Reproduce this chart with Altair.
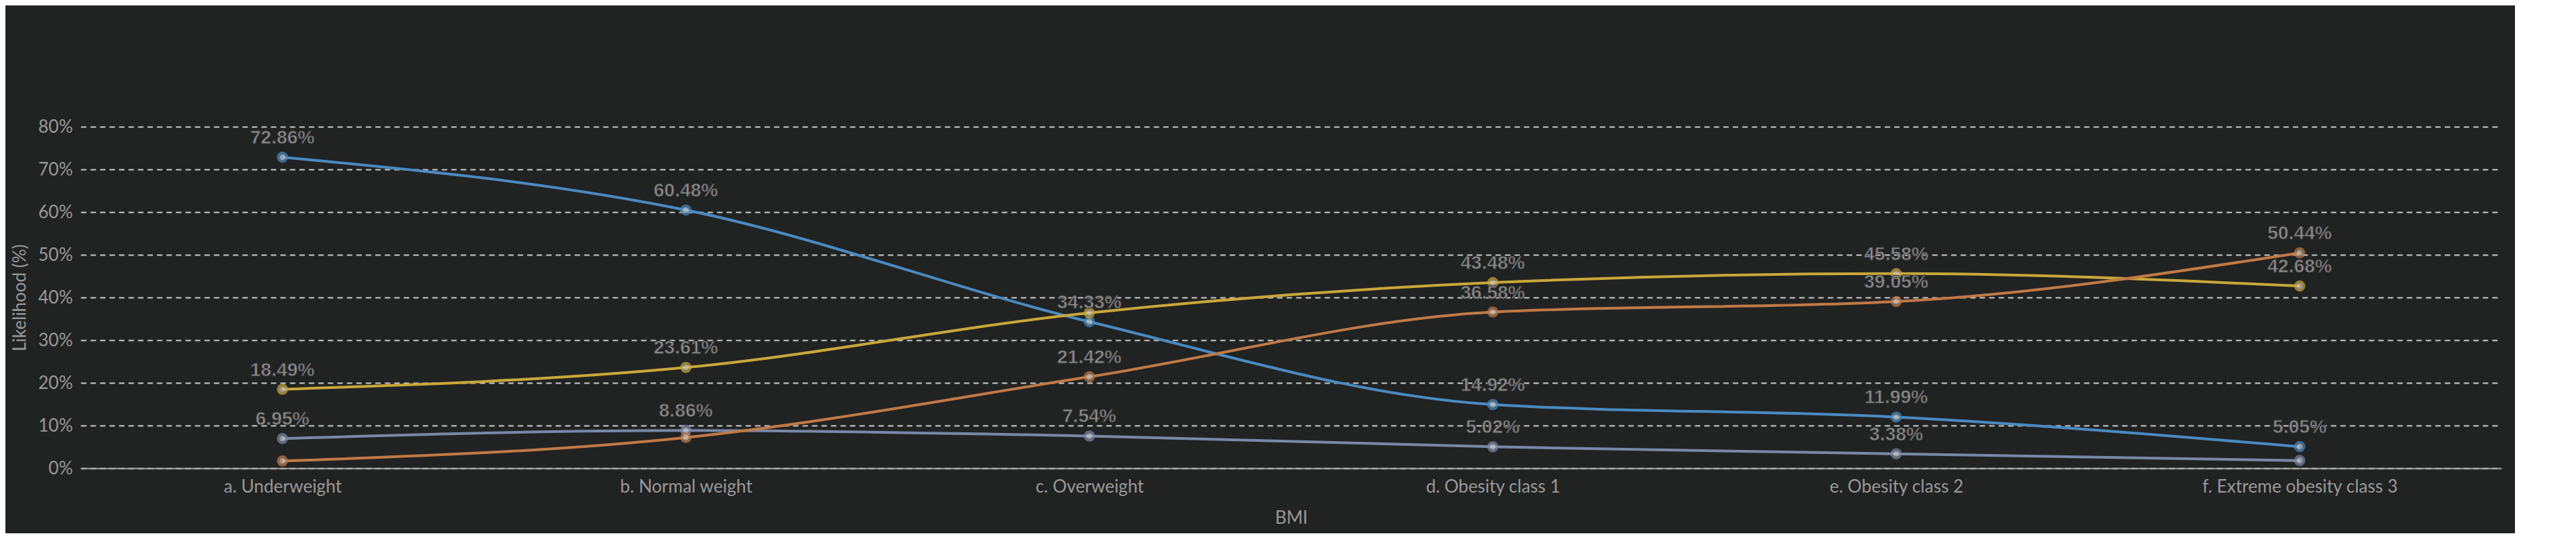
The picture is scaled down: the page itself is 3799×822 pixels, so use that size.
import altair as alt
import pandas as pd

categories = ["a. Underweight", "b. Normal weight", "c. Overweight",
              "d. Obesity class 1", "e. Obesity class 2", "f. Extreme obesity class 3"]
series = ["Normal A1C and HOMA-IR", "Elevated HOMA-IR Only",
          "Elevated A1C Only", "Elevated A1C and HOMA-IR"]
normal = [72.86, 60.48, 34.33, 14.92, 11.99, 5.05]
homa_only = [18.49, 23.61, 36.40, 43.48, 45.58, 42.68]
a1c_only = [6.95, 8.86, 7.54, 5.02, 3.38, 1.80]
both = [1.70, 7.20, 21.42, 36.58, 39.05, 50.44]
# labels the reference does not show (overlapped ones)
hidden = {("Elevated A1C and HOMA-IR", "a. Underweight"),
          ("Elevated A1C and HOMA-IR", "b. Normal weight"),
          ("Elevated A1C Only", "f. Extreme obesity class 3"),
          ("Elevated HOMA-IR Only", "c. Overweight")}

legend_colors = ["#1f5f99", "#8a7414", "#4a4878", "#9b5520"]
line_colors = ["#4a8bc2", "#c9a83a", "#7a88a8", "#c07a45"]

rows = []
for name, vals in zip(series, [normal, homa_only, a1c_only, both]):
    for c, v in zip(categories, vals):
        lab = "" if (name, c) in hidden else f"{v:.2f}%"
        rows.append({"BMI": c, "series": name, "value": v, "label": lab})
df = pd.DataFrame(rows)

x = alt.X("BMI:N", sort=categories, title="BMI",
          scale=alt.Scale(type="point", padding=0.5),
          axis=alt.Axis(labelAngle=0, grid=False, ticks=False, domainColor="#aaaaaa",
                        domainWidth=2, labelPadding=14, titlePadding=20, labelLimit=800))
y = alt.Y("value:Q", title="Likelihood (%)",
          scale=alt.Scale(domain=[0, 80]),
          axis=alt.Axis(values=[0, 10, 20, 30, 40, 50, 60, 70, 80],
                        labelExpr="datum.value + '%'", domain=False, ticks=False,
                        gridDash=[8, 6], gridColor="#cccccc", gridWidth=2,
                        labelPadding=12, titlePadding=14))

base = alt.Chart(df).encode(x=x, y=y)

lines = base.mark_line(interpolate="monotone", strokeWidth=4).encode(
    color=alt.Color("series:N", sort=series,
                    scale=alt.Scale(domain=series, range=line_colors), legend=None))

points = base.mark_point(filled=True, size=160, fill="#cccccc", strokeWidth=4).encode(
    stroke=alt.Stroke("series:N", sort=series,
                      scale=alt.Scale(domain=series, range=line_colors), legend=None))

legend_dots = base.mark_circle(size=0).encode(
    fill=alt.Fill("series:N", sort=series, title=None,
                  scale=alt.Scale(domain=series, range=legend_colors),
                  legend=alt.Legend(orient="none", direction="horizontal",
                                    legendX=-150, legendY=-128,
                                    symbolType="circle", symbolSize=500,
                                    symbolOpacity=1, labelFontSize=26, labelColor="#999999",
                                    columnPadding=30, labelLimit=600)))

labels = base.mark_text(dy=-28, fontSize=28, fontWeight="bold", color="#8c8c8c",
                        stroke="#333333", strokeWidth=1).encode(text="label:N")

chart = alt.layer(lines, points, legend_dots, labels).properties(
    width=3570, height=504,
    background="#212222",
    padding={"left": 8, "top": 166, "right": 20, "bottom": 10}
).configure_view(stroke=None).configure_axis(
    labelFont="Lato", titleFont="Lato", labelFontSize=26, titleFontSize=26,
    labelColor="#999999", titleColor="#999999", titleFontWeight="normal"
).configure_legend(labelFont="Lato")

chart.save("out.html", embed_options={"renderer": "svg", "actions": False})
